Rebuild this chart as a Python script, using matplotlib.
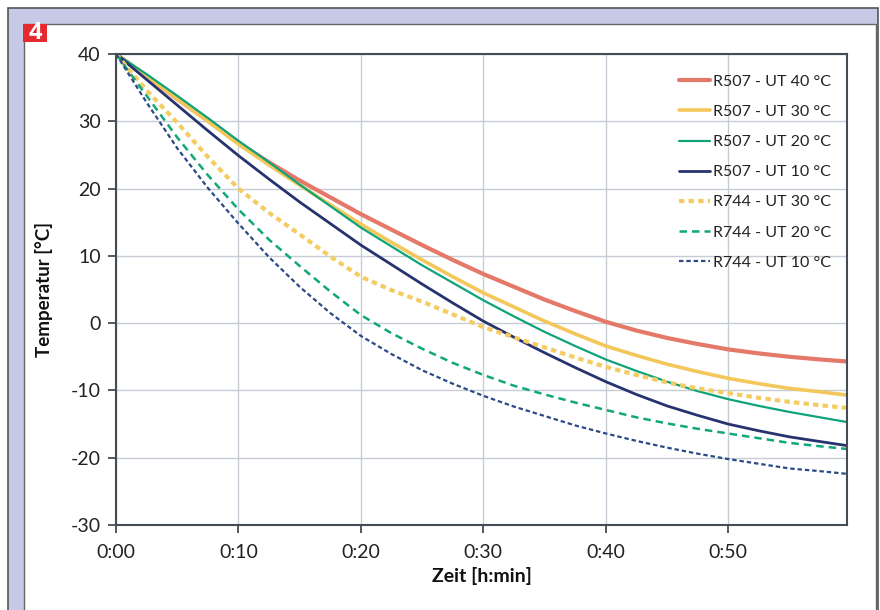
import matplotlib
matplotlib.use("Agg")
import matplotlib.pyplot as plt
from matplotlib.patches import Rectangle

plt.rcParams['font.family'] = ['Lato', 'DejaVu Sans']
plt.rcParams['axes.unicode_minus'] = False

# time in minutes
t = [0, 2.5, 5, 7.5, 10, 12.5, 15, 17.5, 20, 22.5, 25, 27.5, 30, 32.5, 35, 37.5,
     40, 42.5, 45, 47.5, 50, 52.5, 55, 57.5, 59.7]

r507_40 = [40, 36.7, 33.3, 30.1, 26.8, 23.9, 21.2, 18.7, 16.2, 13.9, 11.6, 9.4, 7.3,
           5.4, 3.5, 1.8, 0.2, -1.1, -2.2, -3.1, -3.9, -4.5, -5.0, -5.4, -5.7]
r507_30 = [40, 36.7, 33.3, 30.0, 26.6, 23.5, 20.5, 17.6, 14.7, 12.0, 9.4, 6.9, 4.5,
           2.4, 0.3, -1.6, -3.4, -4.8, -6.1, -7.2, -8.2, -9.0, -9.7, -10.2, -10.7]
r507_20 = [40, 37.0, 33.8, 30.5, 27.1, 23.9, 20.6, 17.4, 14.2, 11.4, 8.6, 6.0, 3.4,
           1.0, -1.3, -3.4, -5.4, -7.1, -8.7, -10.1, -11.3, -12.3, -13.2, -14.0, -14.7]
r507_10 = [40, 36.2, 32.4, 28.6, 24.9, 21.4, 18.0, 14.8, 11.6, 8.7, 5.8, 3.0, 0.3,
           -2.1, -4.4, -6.6, -8.7, -10.6, -12.3, -13.7, -15.0, -16.0, -16.9, -17.6, -18.2]
r744_30 = [40, 34.6, 29.8, 24.7, 20.0, 16.4, 13.2, 9.9, 6.9, 4.9, 3.2, 1.3, -0.6,
           -2.1, -3.6, -5.1, -6.5, -7.7, -8.8, -9.7, -10.4, -11.1, -11.7, -12.2, -12.6]
r744_20 = [40, 33.8, 27.6, 22.0, 16.9, 12.4, 8.5, 4.7, 1.2, -1.5, -3.8, -5.9, -7.7,
           -9.3, -10.6, -11.8, -12.9, -14.0, -14.9, -15.7, -16.4, -17.1, -17.8, -18.3, -18.7]
r744_10 = [40, 32.8, 26.0, 20.1, 14.8, 9.8, 5.4, 1.5, -1.9, -4.6, -7.0, -9.0, -10.8,
           -12.4, -13.8, -15.2, -16.4, -17.5, -18.5, -19.4, -20.2, -20.9, -21.6, -22.0, -22.4]

labels = ["R507 - UT 40 °C", "R507 - UT 30 °C", "R507 - UT 20 °C", "R507 - UT 10 °C",
          "R744 - UT 30 °C", "R744 - UT 20 °C", "R744 - UT 10 °C"]
xticks = [0, 10, 20, 30, 40, 50]
xticklabels = ["0:00", "0:10", "0:20", "0:30", "0:40", "0:50"]
yticks = [-30, -20, -10, 0, 10, 20, 30, 40]

W, H = 880, 610
fig = plt.figure(figsize=(W / 100, H / 100), dpi=100)
fig.patch.set_facecolor('white')

def fx(px):
    return px / W

def fy(py):
    return 1 - py / H

# outer frame (lavender) and inner white panel
fig.patches.append(Rectangle((fx(8), fy(615)), fx(878) - fx(8), fy(8) - fy(615),
                             transform=fig.transFigure, facecolor='#c6cae6',
                             edgecolor='#555555', linewidth=1.2, zorder=0))
fig.patches.append(Rectangle((fx(24), fy(615)), fx(876) - fx(24), fy(24) - fy(615),
                             transform=fig.transFigure, facecolor='white',
                             edgecolor='#666666', linewidth=1.0, zorder=0))
# red badge
fig.patches.append(Rectangle((fx(23), fy(42)), fx(47) - fx(23), fy(24) - fy(42),
                             transform=fig.transFigure, facecolor='#e52a2d',
                             edgecolor='none', zorder=1))
fig.text(fx(35), fy(33), "4", color='white', fontsize=17, fontweight='bold',
         ha='center', va='center', family=['Open Sans', 'DejaVu Sans'], zorder=2)

ax = fig.add_axes([fx(116), fy(525), fx(847) - fx(116), fy(54) - fy(525)])
ax.set_zorder(5)
ax.set_facecolor('white')

ax.plot(t, r507_40, color='#e4796a', lw=3.0, label=labels[0], solid_capstyle='round')
ax.plot(t, r507_30, color='#f3c75a', lw=2.6, label=labels[1], solid_capstyle='round')
ax.plot(t, r507_20, color='#0fa37a', lw=1.6, label=labels[2], solid_capstyle='round')
ax.plot(t, r507_10, color='#27336f', lw=2.0, label=labels[3], solid_capstyle='round')
ax.plot(t, r744_30, color='#f4cc62', lw=3.0, ls=(0, (1.3, 1.0)), label=labels[4])
ax.plot(t, r744_20, color='#10a879', lw=1.8, ls=(0, (3.0, 2.0)), label=labels[5])
ax.plot(t, r744_10, color='#2b4a86', lw=1.6, ls=(0, (2.0, 1.3)), label=labels[6])

ax.set_xlim(0, 59.7)
ax.set_ylim(-30, 40)
ax.set_xticks(xticks)
ax.set_xticklabels(xticklabels)
ax.set_yticks(yticks)
ax.grid(True, color='#c5ccd4', lw=1.0)
ax.set_axisbelow(True)
for s in ax.spines.values():
    s.set_color('#444c55')
    s.set_linewidth(1.5)
ax.tick_params(axis='both', which='major', direction='out', length=6, width=1.3,
               color='#444c55', labelsize=14, labelcolor='#222222', pad=5)
ax.tick_params(axis='x', pad=8)

ax.set_xlabel("Zeit [h:min]", fontsize=14, fontweight='bold', color='#111111', labelpad=4)
ax.set_ylabel("Temperatur [°C]", fontsize=13.5, fontweight='bold', color='#111111', labelpad=13)

leg = ax.legend(loc='upper right', bbox_to_anchor=(1.0, 0.99), frameon=False,
                fontsize=11.5, handlelength=1.9, handletextpad=0.2, labelspacing=1.0,
                borderaxespad=0.6)
for txt in leg.get_texts():
    txt.set_color('#222222')

fig.savefig("out.png", dpi=100)
